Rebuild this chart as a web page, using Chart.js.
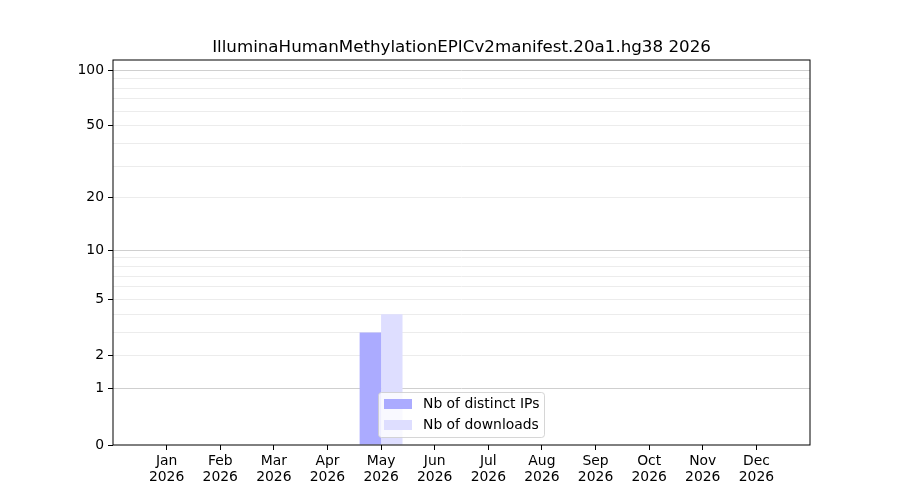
<!DOCTYPE html>
<html>
<head>
<meta charset="utf-8">
<script src="https://cdn.jsdelivr.net/npm/chart.js@4"></script>
<style>
    body { margin: 0; background: #ffffff; }
    #contenedor { width: 900px; height: 500px; }
</style>
</head>
<body>
<div id="contenedor"><canvas id="grafico" width="900" height="500"></canvas></div>
<script>
// datos del grafico
const titulo = "IlluminaHumanMethylationEPICv2manifest.20a1.hg38 2026";
const meses = ["Jan", "Feb", "Mar", "Apr", "May", "Jun", "Jul", "Aug", "Sep", "Oct", "Nov", "Dec"];
const anios = ["2026", "2026", "2026", "2026", "2026", "2026", "2026", "2026", "2026", "2026", "2026", "2026"];
const ipsDistintas = [0, 0, 0, 0, 3, 0, 0, 0, 0, 0, 0, 0];
const descargas = [0, 0, 0, 0, 4, 0, 0, 0, 0, 0, 0, 0];
const etiquetasSerie = ["Nb of distinct IPs", "Nb of downloads"];
const ticksY = [0, 1, 2, 5, 10, 20, 50, 100];
const lineasMenores = [2, 3, 4, 5, 6, 7, 8, 9, 20, 30, 40, 50, 60, 70, 80, 90];
const lineasMayores = [1, 10, 100];
const maximoY = 113.5;

// escala log(1 + y)
function aEje(v) {
    return Math.log10(1 + v);
}

const valoresGrid = [...new Set([...ticksY, ...lineasMenores, ...lineasMayores])].sort((a, b) => a - b);

function puntos(serie) {
    return serie.map((v, i) => ({ x: i, y: aEje(v) }));
}

const FUENTE = "'DejaVu Sans', sans-serif";

const pluginMarco = {
    id: "marco",
    afterDraw(chart) {
        const ctx = chart.ctx;
        const area = chart.chartArea;

        // leyenda
        const x0 = 378.5, y0 = 392.5, ancho = 166, alto = 45, r = 3;
        ctx.save();
        ctx.beginPath();
        ctx.roundRect(x0, y0, ancho, alto, r);
        ctx.fillStyle = "rgba(255,255,255,0.8)";
        ctx.fill();
        ctx.strokeStyle = "rgba(204,204,204,0.8)";
        ctx.lineWidth = 1;
        ctx.stroke();

        ctx.font = "13.9px " + FUENTE;
        ctx.textBaseline = "middle";
        chart.data.datasets.forEach((ds, i) => {
            const yc = 404 + i * 21;
            ctx.fillStyle = ds.backgroundColor;
            ctx.fillRect(384, yc - 5, 28, 10);
            ctx.fillStyle = "#000000";
            ctx.fillText(ds.label, 423, yc);
        });

        // marco del area
        ctx.strokeStyle = "#000000";
        ctx.lineWidth = 1;
        ctx.strokeRect(area.left, area.top, area.right - area.left, area.bottom - area.top);

        // titulo
        ctx.font = "16.7px " + FUENTE;
        ctx.textAlign = "center";
        ctx.textBaseline = "alphabetic";
        ctx.fillText(titulo, (area.left + area.right) / 2, 52);
        ctx.restore();
    }
};

const ctxGrafico = document.getElementById("grafico").getContext("2d");

new Chart(ctxGrafico, {
    type: "bar",
    data: {
        datasets: [
            {
                label: etiquetasSerie[0],
                data: puntos(ipsDistintas),
                backgroundColor: "rgb(171,171,255)",
                borderWidth: 0
            },
            {
                label: etiquetasSerie[1],
                data: puntos(descargas),
                backgroundColor: "rgb(222,222,255)",
                borderWidth: 0
            }
        ]
    },
    options: {
        responsive: false,
        animation: false,
        devicePixelRatio: 1,
        layout: { padding: { left: 0, right: 90, top: 60, bottom: 0 } },
        datasets: { bar: { categoryPercentage: 0.8, barPercentage: 1.0 } },
        plugins: {
            legend: { display: false },
            title: { display: false },
            tooltip: { enabled: false }
        },
        scales: {
            x: {
                type: "linear",
                min: -1,
                max: 12,
                offset: false,
                afterBuildTicks: (escala) => {
                    escala.ticks = meses.map((m, i) => ({ value: i }));
                },
                afterFit: (escala) => { escala.height = 55; },
                border: { display: false },
                grid: {
                    offset: false,
                    drawOnChartArea: false,
                    drawTicks: true,
                    tickLength: 5,
                    tickColor: "#000000",
                    tickWidth: 1
                },
                ticks: {
                    autoSkip: false,
                    maxRotation: 0,
                    padding: 3,
                    color: "#000000",
                    font: { family: FUENTE, size: 13.9, lineHeight: 1.15 },
                    callback: (valor) => [meses[valor], anios[valor]]
                }
            },
            y: {
                type: "linear",
                min: 0,
                max: aEje(maximoY),
                afterBuildTicks: (escala) => {
                    escala.ticks = valoresGrid.map(v => ({ value: aEje(v) }));
                },
                afterFit: (escala) => { escala.width = 113; },
                border: { display: false },
                grid: {
                    drawTicks: true,
                    tickLength: 5,
                    color: (c) => {
                        const v = valoresGrid[c.index];
                        if (v === 0) return "rgba(0,0,0,0)";
                        return lineasMayores.includes(v) ? "#cfcfcf" : "#ececec";
                    },
                    tickColor: (c) => ticksY.includes(valoresGrid[c.index]) ? "#000000" : "rgba(0,0,0,0)",
                    lineWidth: 1
                },
                ticks: {
                    autoSkip: false,
                    padding: 4,
                    color: "#000000",
                    font: { family: FUENTE, size: 13.9 },
                    callback: (valor, indice) => {
                        const v = valoresGrid[indice];
                        return ticksY.includes(v) ? String(v) : "";
                    }
                }
            }
        }
    },
    plugins: [pluginMarco]
});
</script>
</body>
</html>
